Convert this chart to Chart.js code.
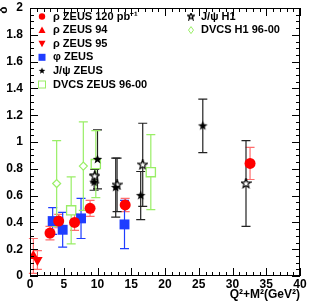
<!DOCTYPE html>
<html>
<head>
<meta charset="utf-8">
<script src="https://cdn.jsdelivr.net/npm/chart.js@4.4.1/dist/chart.umd.min.js"></script>
<style>
body { margin: 0; background: #fff; }
</style>
</head>
<body>
<canvas id="myChart" width="330" height="306"></canvas>
<script>
// data: x = Q2+M2 (GeV2), y = delta, err = symmetric error
var rhoX = [2.96, 4.25, 6.6, 8.9, 14.1, 32.6];
var rhoY = [0.32, 0.41, 0.40, 0.505, 0.53, 0.84];
var rhoErr = [0.05, 0.05, 0.06, 0.06, 0.05, 0.12];

var rho94X = [0.5];
var rho94Y = [0.15];
var rho94Err = [0.13];

var rho95X = [1.1];
var rho95Y = [0.12];
var rho95Err = [0.07];

var phiX = [3.36, 4.84, 7.56, 14.0];
var phiY = [0.41, 0.345, 0.43, 0.385];
var phiErr = [0.1, 0.13, 0.15, 0.18];

var jpsiX = [10.0, 9.5, 12.7, 16.4, 25.6];
var jpsiY = [0.87, 0.70, 0.66, 0.60, 1.12];
var jpsiErr = [0.22, 0.06, 0.22, 0.18, 0.2];

var jpsiH1X = [9.6, 12.9, 16.7, 32.0];
var jpsiH1Y = [0.745, 0.68, 0.83, 0.69];
var jpsiH1Err = [0.05, 0.2, 0.31, 0.32];

var dvcsX = [6.1, 9.75, 17.9];
var dvcsY = [0.49, 0.835, 0.775];
var dvcsErr = [0.25, 0.25, 0.28];

var dvcsH1X = [3.95, 7.9];
var dvcsH1Y = [0.69, 0.82];
var dvcsH1Err = [0.32, 0.33];

var xTicks = [0, 5, 10, 15, 20, 25, 30, 35, 40];
var yTicks = [0, 0.2, 0.4, 0.6, 0.8, 1, 1.2, 1.4, 1.6, 1.8, 2];

var RED = '#ff0000';
var BLUE = '#1f3dff';
var GREEN = '#99ee66';
var FONT = 'bold 11px "Liberation Sans", Arial, sans-serif';

function pts(xs, ys) {
    return xs.map(function(x, i) { return { x: x, y: ys[i] }; });
}

// 5 point star drawn into a small canvas, used as pointStyle
function makeStar(size, filled) {
    var c = document.createElement('canvas');
    c.width = size; c.height = size;
    var g = c.getContext('2d');
    var cx = size / 2, cy = size / 2, ro = size / 2 - 0.5, ri = ro * 0.42;
    g.beginPath();
    for (var i = 0; i < 10; i++) {
        var r = i % 2 == 0 ? ro : ri;
        var a = -Math.PI / 2 + i * Math.PI / 5;
        g.lineTo(cx + r * Math.cos(a), cy + r * Math.sin(a));
    }
    g.closePath();
    if (filled) {
        g.fillStyle = '#000';
        g.fill();
    } else {
        g.fillStyle = '#fff';
        g.fill();
        g.lineWidth = 1.2;
        g.strokeStyle = '#000';
        g.stroke();
    }
    return c;
}
var starFull = makeStar(11, true);
var starOpen = makeStar(11, false);
var starFullSmall = makeStar(8, true);
var starOpenSmall = makeStar(8, false);

var datasets = [
    { label: 'ρ ZEUS 120 pb⁻¹', data: pts(rhoX, rhoY), err: rhoErr, errColor: 'rgba(255,60,60,0.75)',
      pointStyle: 'circle', pointRadius: 5.5, backgroundColor: RED, borderColor: RED, borderWidth: 0 },
    { label: 'ρ ZEUS 94', data: pts(rho94X, rho94Y), err: rho94Err, errColor: 'rgba(255,60,60,0.75)',
      pointStyle: 'triangle', pointRadius: 6, backgroundColor: RED, borderColor: RED, borderWidth: 0 },
    { label: 'ρ ZEUS 95', data: pts(rho95X, rho95Y), err: rho95Err, errColor: 'rgba(255,60,60,0.75)',
      pointStyle: 'triangle', rotation: 180, pointRadius: 6, backgroundColor: RED, borderColor: RED, borderWidth: 0 },
    { label: 'φ ZEUS', data: pts(phiX, phiY), err: phiErr, errColor: BLUE,
      pointStyle: 'rect', pointRadius: 7, backgroundColor: BLUE, borderColor: BLUE, borderWidth: 0 },
    { label: 'J/ψ ZEUS', data: pts(jpsiX, jpsiY), err: jpsiErr, errColor: '#222',
      pointStyle: starFull, pointRadius: 5, backgroundColor: '#000', borderColor: '#000' },
    { label: 'DVCS ZEUS 96-00', data: pts(dvcsX, dvcsY), err: dvcsErr, errColor: GREEN,
      pointStyle: 'rect', pointRadius: 6.5, backgroundColor: '#fff', borderColor: GREEN, borderWidth: 1.3 },
    { label: 'J/ψ H1', data: pts(jpsiH1X, jpsiH1Y), err: jpsiH1Err, errColor: '#222',
      pointStyle: starOpen, pointRadius: 5, backgroundColor: '#fff', borderColor: '#000' },
    { label: 'DVCS H1 96-00', data: pts(dvcsH1X, dvcsH1Y), err: dvcsH1Err, errColor: GREEN,
      pointStyle: 'rectRot', pointRadius: 4, backgroundColor: '#fff', borderColor: GREEN, borderWidth: 1.2 }
];

// legend positions (two columns, inside the frame)
var legendLeft = [0, 1, 2, 3, 4, 5];
var legendRight = [6, 7];

function drawLegendMarker(ctx, ds, x, y) {
    ctx.save();
    ctx.fillStyle = ds.backgroundColor;
    ctx.strokeStyle = ds.borderColor;
    ctx.lineWidth = 1;
    var s = ds.pointStyle;
    if (s instanceof HTMLCanvasElement) {
        var img = s === starFull ? starFullSmall : starOpenSmall;
        ctx.drawImage(img, x - 4, y - 4);
    } else if (s == 'circle') {
        ctx.beginPath(); ctx.arc(x, y, 3.2, 0, Math.PI * 2); ctx.fill();
    } else if (s == 'triangle') {
        ctx.beginPath();
        if (ds.rotation == 180) {
            ctx.moveTo(x - 3.5, y - 3); ctx.lineTo(x + 3.5, y - 3); ctx.lineTo(x, y + 3.5);
        } else {
            ctx.moveTo(x - 3.5, y + 3); ctx.lineTo(x + 3.5, y + 3); ctx.lineTo(x, y - 3.5);
        }
        ctx.closePath(); ctx.fill();
    } else if (s == 'rect') {
        if (ds.backgroundColor == '#fff') {
            ctx.strokeRect(x - 3.5, y - 3.5, 7, 7);
        } else {
            ctx.fillRect(x - 3.5, y - 3.5, 7, 7);
        }
    } else if (s == 'rectRot') {
        ctx.beginPath();
        ctx.moveTo(x, y - 3.5); ctx.lineTo(x + 2.5, y); ctx.lineTo(x, y + 3.5); ctx.lineTo(x - 2.5, y);
        ctx.closePath(); ctx.stroke();
    }
    ctx.restore();
}

var rootStyle = {
    id: 'rootStyle',
    beforeDatasetsDraw: function(chart) {
        // error bars from the scales
        var ctx = chart.ctx, xs = chart.scales.x, ys = chart.scales.y;
        ctx.save();
        chart.data.datasets.forEach(function(ds) {
            ctx.strokeStyle = ds.errColor;
            ctx.lineWidth = 1.2;
            ds.data.forEach(function(p, i) {
                var px = xs.getPixelForValue(p.x);
                var top = ys.getPixelForValue(p.y + ds.err[i]);
                var bot = ys.getPixelForValue(p.y - ds.err[i]);
                ctx.beginPath();
                ctx.moveTo(px, top); ctx.lineTo(px, bot);
                ctx.moveTo(px - 4.5, top); ctx.lineTo(px + 4.5, top);
                ctx.moveTo(px - 4.5, bot); ctx.lineTo(px + 4.5, bot);
                ctx.stroke();
            });
        });
        ctx.restore();
    },
    afterDraw: function(chart) {
        var ctx = chart.ctx, xs = chart.scales.x, ys = chart.scales.y;
        var a = chart.chartArea;
        ctx.save();
        ctx.strokeStyle = '#000';
        ctx.lineWidth = 1;
        ctx.strokeRect(a.left + 0.5, a.top + 0.5, a.right - a.left - 1, a.bottom - a.top - 1);
        ctx.beginPath();
        for (var v = 0; v <= 40; v++) {
            var px = Math.round(xs.getPixelForValue(v)) + 0.5;
            var len = v % 5 == 0 ? 8 : 4;
            ctx.moveTo(px, a.bottom); ctx.lineTo(px, a.bottom - len);
            ctx.moveTo(px, a.top); ctx.lineTo(px, a.top + len);
        }
        for (var k = 0; k <= 40; k++) {
            var py = Math.round(ys.getPixelForValue(k * 0.05)) + 0.5;
            var l = k % 4 == 0 ? 8 : 4;
            ctx.moveTo(a.left, py); ctx.lineTo(a.left + l, py);
            ctx.moveTo(a.right, py); ctx.lineTo(a.right - l, py);
        }
        ctx.stroke();

        // legend
        ctx.font = FONT;
        ctx.fillStyle = '#000';
        ctx.textBaseline = 'middle';
        legendLeft.forEach(function(idx, r) {
            var ds = chart.data.datasets[idx];
            var y = 16.5 + r * 13.6;
            drawLegendMarker(ctx, ds, 42, y);
            ctx.fillText(ds.label, 53, y);
        });
        legendRight.forEach(function(idx, r) {
            var ds = chart.data.datasets[idx];
            var y = 16.5 + r * 13.6;
            drawLegendMarker(ctx, ds, 191, y);
            ctx.fillText(ds.label, 201, y);
        });

        // axis titles
        ctx.font = 'bold 12px "Liberation Sans", Arial, sans-serif';
        ctx.textAlign = 'right';
        ctx.textBaseline = 'alphabetic';
        ctx.fillText('Q²+M²(GeV²)', a.right, 298);
        ctx.translate(7, 10);
        ctx.rotate(-Math.PI / 2);
        ctx.textAlign = 'center';
        ctx.fillText('δ', 0, 0);
        ctx.restore();
    }
};

var ctx = document.getElementById('myChart').getContext('2d');
var myChart = new Chart(ctx, {
    type: 'scatter',
    data: { datasets: datasets },
    options: {
        responsive: false,
        animation: false,
        layout: { padding: { top: 8, right: 30, left: 0, bottom: 0 } },
        plugins: { legend: { display: false }, tooltip: { enabled: false } },
        scales: {
            x: {
                type: 'linear', min: 0, max: 40,
                afterBuildTicks: function(s) { s.ticks = xTicks.map(function(v) { return { value: v }; }); },
                afterFit: function(s) { s.height = 30; s.paddingLeft = 0; s.paddingRight = 0; },
                grid: { display: false, drawTicks: false },
                border: { display: false },
                ticks: { color: '#000', padding: 1, maxRotation: 0, font: { family: '"Liberation Sans", Arial', size: 12, weight: 'bold' } }
            },
            y: {
                type: 'linear', min: 0, max: 2,
                afterBuildTicks: function(s) { s.ticks = yTicks.map(function(v) { return { value: v }; }); },
                afterFit: function(s) { s.width = 30; s.paddingTop = 0; s.paddingBottom = 0; },
                grid: { display: false, drawTicks: false },
                border: { display: false },
                ticks: { color: '#000', padding: 7, font: { family: '"Liberation Sans", Arial', size: 12, weight: 'bold' },
                    callback: function(v) { return String(+v.toFixed(1)); } }
            }
        }
    },
    plugins: [rootStyle]
});
</script>
</body>
</html>
